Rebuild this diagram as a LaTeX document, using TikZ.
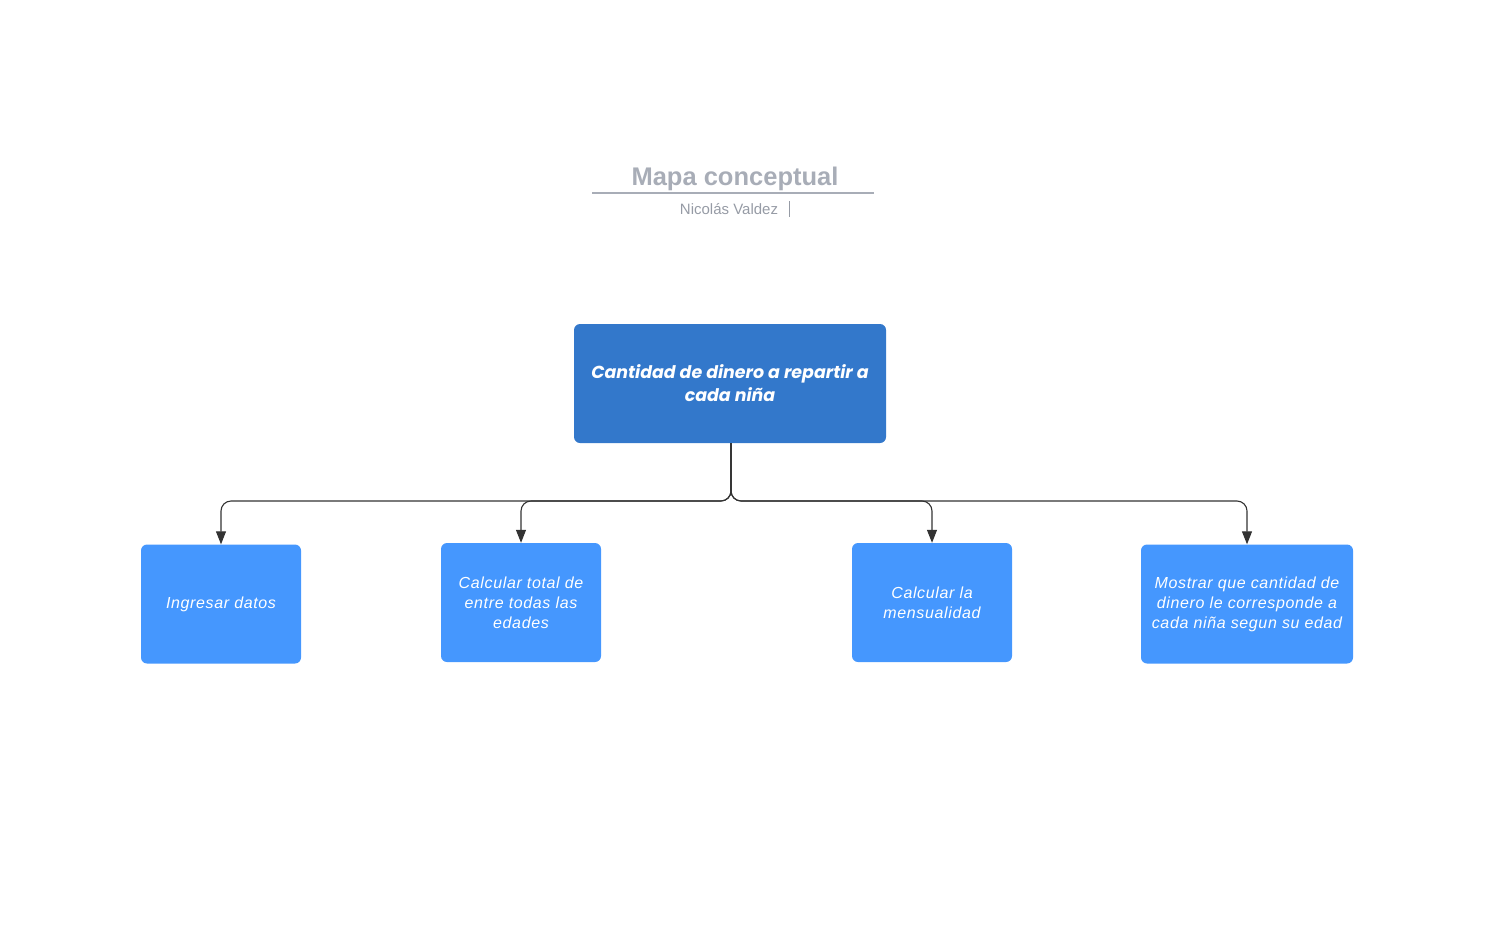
\documentclass[tikz,border=0pt]{standalone}
\usepackage{fontspec}
\setmainfont{Liberation Sans}
\newfontfamily\boxfont{Poppins}
\newfontfamily\subfont[LetterSpace=4]{Liberation Sans}
\usetikzlibrary{positioning,arrows.meta}

\definecolor{mainblue}{RGB}{51,120,203}
\definecolor{childblue}{RGB}{69,151,254}
\definecolor{titlegray}{RGB}{168,173,183}
\definecolor{subgray}{RGB}{150,155,165}
\definecolor{linkgray}{RGB}{51,51,51}

\begin{document}
\begin{tikzpicture}[x=1pt,y=-1pt]
    \tikzstyle{concept}=[rectangle,rounded corners=6pt,text=white,align=center,inner sep=0pt]
    \tikzstyle{main concept}=[concept,fill=mainblue,minimum width=312pt,minimum height=119pt,font=\boxfont\bfseries\itshape\fontsize{17.4}{23}\selectfont]
    \tikzstyle{sub concept}=[concept,fill=childblue,minimum height=119pt,font=\subfont\itshape\fontsize{16}{20}\selectfont]
    \tikzstyle{link}=[-{Triangle[length=13pt,width=10pt]},draw=linkgray,line width=1.1pt,rounded corners=10pt]

    \useasboundingbox (0,0) rectangle (1498,924);

    % heading
    \node[text=titlegray,font=\bfseries\fontsize{25.5}{30}\selectfont] (title) at (735,178.5) {Mapa conceptual};
    \draw[titlegray,line width=2pt] (592,192.5) -- (874,192.5);
    \node[text=subgray,font=\fontsize{15}{17}\selectfont] (author) at (729,209.5) {Nicolás Valdez};
    \draw[subgray,line width=0.8pt] (789,201) -- (789,217);

    \node[main concept] (main) at (730,383.5) {Cantidad de dinero a repartir a\\cada niña};

    \node[sub concept,minimum width=160pt] (datos) at (221,604) {Ingresar datos};
    \node[sub concept,minimum width=160pt] (total) at (521,602.5) {Calcular total de\\entre todas las\\edades};
    \node[sub concept,minimum width=160pt] (mensual) at (932,602.5) {Calcular la\\mensualidad};
    \node[sub concept,minimum width=212pt] (mostrar) at (1247,604) {Mostrar que cantidad de\\dinero le corresponde a\\cada niña segun su edad};

    \coordinate (fork) at (731,501);

    \draw[link] (main.south -| fork) -- (fork) -| (datos.north);
    \draw[link] (main.south -| fork) -- (fork) -| (total.north);
    \draw[link] (main.south -| fork) -- (fork) -| (mensual.north);
    \draw[link] (main.south -| fork) -- (fork) -| (mostrar.north);
\end{tikzpicture}
\end{document}
